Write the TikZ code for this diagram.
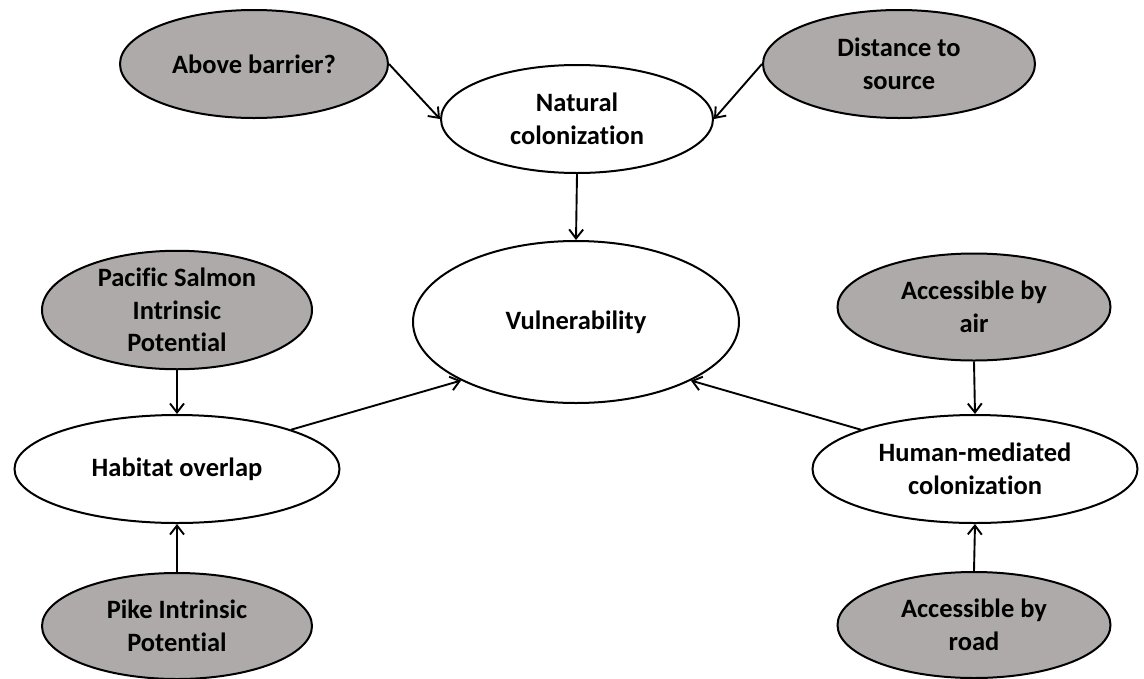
\documentclass[tikz,border=0pt]{standalone}
\usepackage{fontspec}
\setmainfont{Carlito}[Ligatures=NoCommon]
\usetikzlibrary{shapes.geometric,arrows.meta}
\definecolor{nodegrey}{RGB}{174,170,170}
\begin{document}
\begin{tikzpicture}[x=1pt,y=-1pt,
  base/.style={ellipse,draw=black,line width=2pt,inner sep=0pt,align=center,
    font=\fontsize{26.5}{32.5}\selectfont\bfseries},
  grey/.style={base,fill=nodegrey},
  white/.style={base,fill=white},
  conn/.style={line width=1.9pt,-{Straight Barb[length=9pt,width=14pt]}}]
\useasboundingbox (0,0) rectangle (1144,678);
\node[grey,minimum width=268pt,minimum height=108pt] (ab) at (254,64) {Above barrier?};
\node[grey,minimum width=272pt,minimum height=108pt] (ds) at (899,64) {Distance to\\source};
\node[white,minimum width=272pt,minimum height=108pt] (nat) at (577,119) {Natural\\colonization};
\node[white,minimum width=326pt,minimum height=162pt] (vul) at (576,322) {Vulnerability};
\node[grey,minimum width=270pt,minimum height=107pt] (ps) at (177,310) {Pacific Salmon\\Intrinsic\\Potential};
\node[white,minimum width=325pt,minimum height=108pt] (hab) at (177,469) {Habitat overlap};
\node[grey,minimum width=270pt,minimum height=106pt] (pike) at (177,626) {Pike Intrinsic\\Potential};
\node[grey,minimum width=273pt,minimum height=107pt] (air) at (974,307) {Accessible by\\air};
\node[white,minimum width=325pt,minimum height=108pt] (hum) at (975,469) {Human-mediated\\colonization};
\node[grey,minimum width=273pt,minimum height=106pt] (road) at (974,625) {Accessible by\\road};
\draw[conn] (ab.east) -- (nat.west);
\draw[conn] (ds.west) -- (nat.east);
\draw[conn] (nat.south) -- (vul.north);
\draw[conn] (ps.south) -- (hab.north);
\draw[conn] (pike.north) -- (hab.south);
\draw[conn] (hab.19) -- (vul.207);
\draw[conn] (air.south) -- (hum.north);
\draw[conn] (road.north) -- (hum.south);
\draw[conn] (hum.161) -- (vul.333);
\end{tikzpicture}
\end{document}
